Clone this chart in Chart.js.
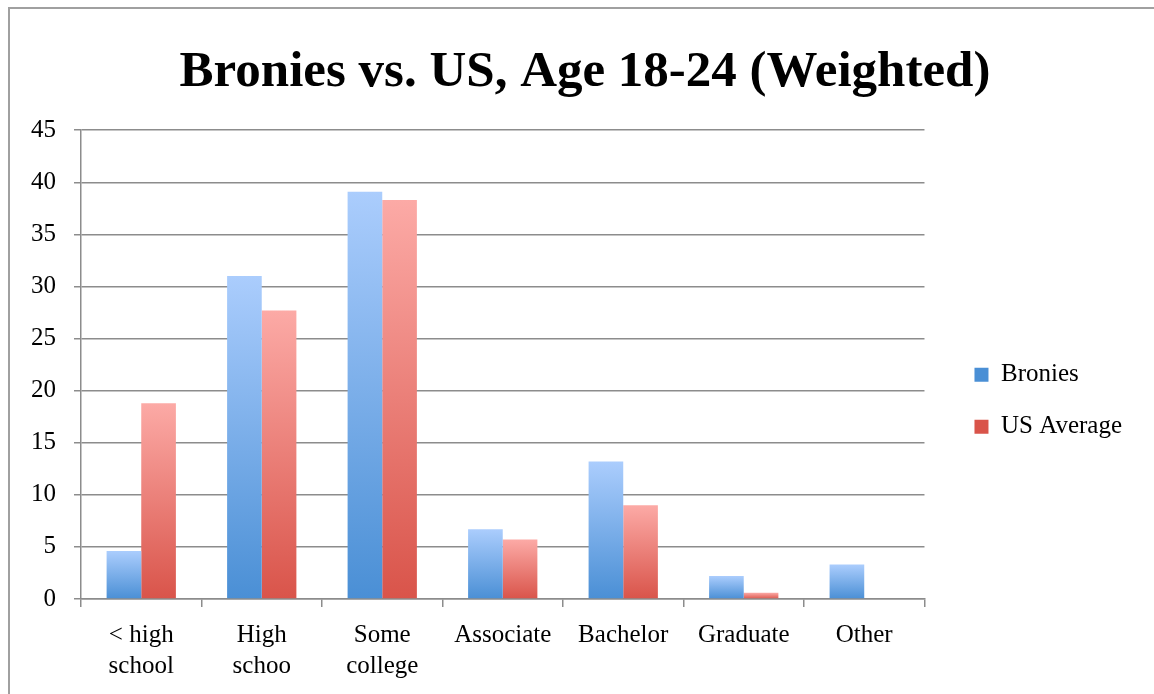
<!DOCTYPE html>
<html lang="en">
<head>
    <meta charset="UTF-8">
    <title>Bronies vs. US, Age 18-24 (Weighted)</title>
    <script src="https://cdn.jsdelivr.net/npm/chart.js"></script>
    <style>
        html, body { margin: 0; padding: 0; background: #fff; overflow: hidden; }
        #frame {
            position: absolute; left: 8px; top: 7px; width: 1146px; height: 687px;
            border-left: 2px solid #a0a0a0; border-top: 2px solid #a0a0a0;
            box-sizing: border-box;
        }
        #wrap { position: absolute; left: 0; top: 0; width: 1154px; height: 694px; }
    </style>
</head>
<body>
    <div id="frame"></div>
    <div id="wrap"><canvas id="chart"></canvas></div>
    <script>
        const categories = [['< high', 'school'], ['High', 'schoo'], ['Some', 'college'], 'Associate', 'Bachelor', 'Graduate', 'Other'];
        const bronies = [4.6, 31.0, 39.1, 6.7, 13.2, 2.2, 3.3];
        const usAverage = [18.8, 27.7, 38.3, 5.7, 9.0, 0.6, 0];
        const seriesNames = ['Bronies', 'US Average'];
        const yTicks = [0, 5, 10, 15, 20, 25, 30, 35, 40, 45];

        const serif = "'Liberation Serif', 'DejaVu Serif', serif";
        const blue = ['#abcdfd', '#4a8fd5'];
        const red = ['#fcaaa6', '#d9544a'];

        // vertical gradient inside each bar, light at top, dark at base
        function barGradient(cols) {
            return function(context) {
                const chart = context.chart;
                if (!chart.chartArea || context.raw == null) return cols[1];
                const y = chart.scales.y;
                const top = y.getPixelForValue(context.raw);
                const base = y.getPixelForValue(0);
                if (base - top < 1) return cols[1];
                const g = chart.ctx.createLinearGradient(0, top, 0, base);
                g.addColorStop(0, cols[0]);
                g.addColorStop(1, cols[1]);
                return g;
            };
        }

        // small horizontal nudges for the legend and title, like the original
        const nudge = {
            id: 'nudge',
            afterLayout(chart) {
                if (chart.legend) {
                    chart.legend.left += 23;
                    chart.legend.right += 23;
                }
                if (chart.titleBlock) {
                    chart.titleBlock.left += 24;
                    chart.titleBlock.right += 24;
                }
            }
        };

        const ctx = document.getElementById('chart').getContext('2d');
        new Chart(ctx, {
            type: 'bar',
            data: {
                labels: categories,
                datasets: [{
                    label: seriesNames[0],
                    data: bronies,
                    backgroundColor: barGradient(blue),
                    barPercentage: 1,
                    categoryPercentage: 0.575
                }, {
                    label: seriesNames[1],
                    data: usAverage,
                    backgroundColor: barGradient(red),
                    barPercentage: 1,
                    categoryPercentage: 0.575
                }]
            },
            plugins: [nudge],
            options: {
                responsive: true,
                maintainAspectRatio: false,
                animation: false,
                layout: { padding: { left: 13, right: 45, top: 42, bottom: -1.5 } },
                plugins: {
                    title: {
                        display: true,
                        text: 'Bronies vs. US, Age 18-24 (Weighted)',
                        color: '#000',
                        font: { family: serif, size: 51, weight: 'bold' },
                        padding: { top: 0, bottom: 27 }
                    },
                    legend: {
                        position: 'right',
                        title: { display: true, text: ' ', padding: 26, font: { size: 10 } },
                        labels: {
                            color: '#000',
                            font: { family: serif, size: 25 },
                            boxWidth: 14,
                            boxHeight: 14,
                            padding: 27,
                            generateLabels: function(chart) {
                                const cols = [blue, red];
                                return seriesNames.map((name, i) => ({
                                    text: name,
                                    fillStyle: cols[i][1],
                                    fontColor: '#000',
                                    strokeStyle: 'rgba(0,0,0,0)',
                                    lineWidth: 0,
                                    datasetIndex: i
                                }));
                            }
                        }
                    },
                    tooltip: { enabled: false }
                },
                scales: {
                    x: {
                        grid: {
                            offset: true,
                            drawOnChartArea: false,
                            drawTicks: true,
                            tickLength: 8,
                            color: '#8c8c8c',
                            lineWidth: 1.5
                        },
                        border: { color: '#8c8c8c', width: 1.5 },
                        ticks: {
                            color: '#000',
                            font: { family: serif, size: 25, lineHeight: 1.25 },
                            padding: 13,
                            maxRotation: 0,
                            autoSkip: false
                        }
                    },
                    y: {
                        min: 0,
                        max: 45,
                        afterBuildTicks: axis => { axis.ticks = yTicks.map(v => ({ value: v })); },
                        grid: {
                            color: '#8c8c8c',
                            lineWidth: 1.5,
                            tickLength: 7
                        },
                        border: { color: '#8c8c8c', width: 1.5 },
                        ticks: {
                            color: '#000',
                            font: { family: serif, size: 25 },
                            padding: 18
                        }
                    }
                }
            }
        });
    </script>
</body>
</html>
